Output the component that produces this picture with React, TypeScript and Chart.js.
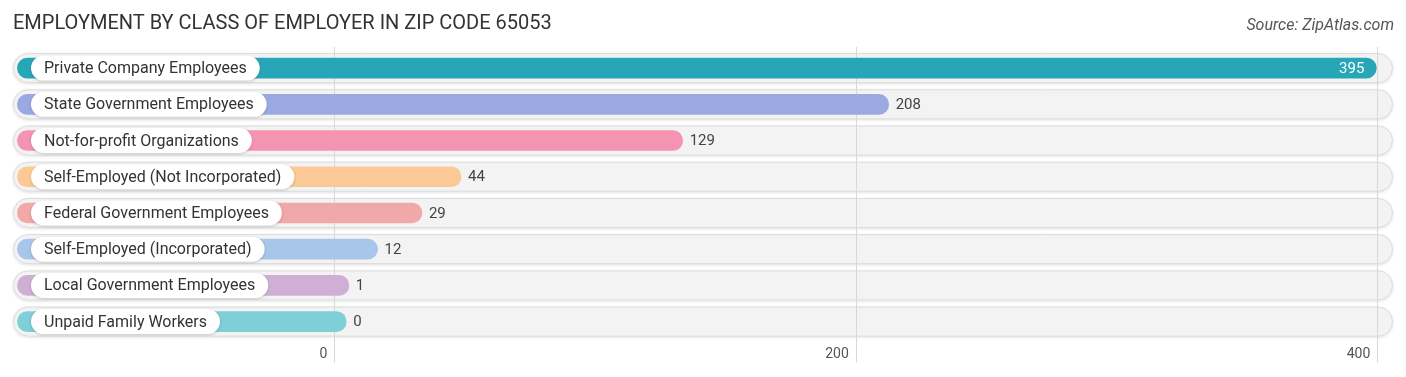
import React, { useEffect, useRef } from 'react';
import { Chart, registerables } from 'chart.js';

Chart.register(...registerables);

const titleText = 'EMPLOYMENT BY CLASS OF EMPLOYER IN ZIP CODE 65053';
const sourceText = 'Source: ZipAtlas.com';

const categories = [
  'Private Company Employees',
  'State Government Employees',
  'Not-for-profit Organizations',
  'Self-Employed (Not Incorporated)',
  'Federal Government Employees',
  'Self-Employed (Incorporated)',
  'Local Government Employees',
  'Unpaid Family Workers',
];
const values = [395, 208, 129, 44, 29, 12, 1, 0];
const colors = [
  '#27a6b8',
  '#9ba9e3',
  '#f593b3',
  '#fbc995',
  '#f0a8a8',
  '#a7c6ea',
  '#cfafd5',
  '#7ecfd8',
];
const tickValues = [0, 200, 400];

const AXIS_MIN = -123.2;
const AXIS_MAX = 406;
const BAR_START = -121.5;
const END_PAD = 4.6;

const FONT = 'Roboto, "Noto Sans", sans-serif';

function roundRect(ctx: CanvasRenderingContext2D, x: number, y: number, w: number, h: number, r: number) {
  ctx.beginPath();
  ctx.moveTo(x + r, y);
  ctx.lineTo(x + w - r, y);
  ctx.arc(x + w - r, y + r, r, -Math.PI / 2, Math.PI / 2);
  ctx.lineTo(x + r, y + h);
  ctx.arc(x + r, y + r, r, Math.PI / 2, (3 * Math.PI) / 2);
  ctx.closePath();
}

const backgroundPlugin = {
  id: 'rowBackground',
  beforeDraw(chart: any) {
    const ctx = chart.ctx as CanvasRenderingContext2D;
    const area = chart.chartArea;
    const yScale = chart.scales.y;
    const xScale = chart.scales.x;
    ctx.save();
    // title & source
    ctx.fillStyle = '#333';
    ctx.font = `400 20px ${FONT}`;
    ctx.textAlign = 'left';
    ctx.textBaseline = 'alphabetic';
    ctx.fillText(titleText, 13, 29);
    ctx.fillStyle = '#555';
    ctx.font = `italic 400 16px ${FONT}`;
    ctx.textAlign = 'right';
    ctx.fillText(sourceText, 1394, 30);

    // row pills
    categories.forEach((_, i) => {
      const y = yScale.getPixelForValue(i);
      const h = 30;
      ctx.save();
      ctx.shadowColor = 'rgba(0,0,0,0.12)';
      ctx.shadowBlur = 3;
      ctx.shadowOffsetY = 1;
      roundRect(ctx, area.left, y - h / 2, area.right - area.left, h, h / 2);
      ctx.fillStyle = '#f3f3f3';
      ctx.fill();
      ctx.restore();
      roundRect(ctx, area.left + 0.5, y - h / 2 + 0.5, area.right - area.left - 1, h - 1, (h - 1) / 2);
      ctx.strokeStyle = '#dcdcdc';
      ctx.lineWidth = 1;
      ctx.stroke();
    });

    // grid lines
    ctx.strokeStyle = '#d8d8d8';
    ctx.lineWidth = 1;
    tickValues.forEach((t) => {
      const x = Math.round(xScale.getPixelForValue(t)) + 0.5;
      ctx.beginPath();
      ctx.moveTo(x, area.top - 3);
      ctx.lineTo(x, area.bottom + 23);
      ctx.stroke();
    });
    ctx.restore();
  },
};

const labelPlugin = {
  id: 'barLabels',
  afterDatasetsDraw(chart: any) {
    const ctx = chart.ctx as CanvasRenderingContext2D;
    const area = chart.chartArea;
    const meta = chart.getDatasetMeta(0);
    const maxV = Math.max(...values);
    ctx.save();
    meta.data.forEach((el: any, i: number) => {
      const y = el.y;
      const endX = Math.max(el.x, el.base);
      // category pill
      ctx.font = `400 16px ${FONT}`;
      const tw = ctx.measureText(categories[i]).width;
      const px = area.left + 18;
      const ph = 25;
      ctx.save();
      ctx.shadowColor = 'rgba(0,0,0,0.18)';
      ctx.shadowBlur = 3;
      ctx.shadowOffsetY = 1;
      roundRect(ctx, px, y - ph / 2, tw + 26, ph, ph / 2);
      ctx.fillStyle = '#ffffff';
      ctx.fill();
      ctx.restore();
      ctx.fillStyle = '#333';
      ctx.textAlign = 'left';
      ctx.textBaseline = 'middle';
      ctx.fillText(categories[i], px + 13, y + 1);

      // value label
      const v = values[i];
      ctx.font = `400 15px ${FONT}`;
      if (v / maxV > 0.8) {
        ctx.fillStyle = '#ffffff';
        ctx.textAlign = 'right';
        ctx.fillText(String(v), endX - 12, y + 1);
      } else {
        ctx.fillStyle = '#444';
        ctx.textAlign = 'left';
        ctx.fillText(String(v), endX + 7, y + 1);
      }
    });
    ctx.restore();
  },
};

export default function App() {
  const canvasRef = useRef<HTMLCanvasElement | null>(null);

  useEffect(() => {
    if (!canvasRef.current) return;
    const chart = new Chart(canvasRef.current, {
      type: 'bar',
      data: {
        labels: categories,
        datasets: [
          {
            data: values.map((v) => [BAR_START, v + END_PAD]) as any,
            backgroundColor: colors,
            borderWidth: 0,
            borderRadius: 10,
            borderSkipped: false,
            barThickness: 20,
          },
        ],
      },
      options: {
        indexAxis: 'y',
        animation: false,
        responsive: false,
        devicePixelRatio: 1,
        layout: { padding: { left: 13, right: 13, top: 50, bottom: 8.5 } },
        plugins: {
          legend: { display: false },
          tooltip: { enabled: false },
          title: { display: false },
        },
        scales: {
          x: {
            type: 'linear',
            min: AXIS_MIN,
            max: AXIS_MAX,
            border: { display: false },
            grid: { display: false, drawTicks: false },
            afterBuildTicks: (scale: any) => {
              scale.ticks = tickValues.map((v) => ({ value: v }));
            },
            ticks: {
              autoSkip: false,
              maxRotation: 0,
              align: 'end',
              labelOffset: -7,
              padding: 6,
              color: '#555',
              font: { family: FONT, size: 14 },
            },
          },
          y: {
            type: 'category',
            display: false,
          },
        },
      },
      plugins: [backgroundPlugin, labelPlugin],
    });
    return () => chart.destroy();
  }, []);

  return (
    <div style={{ position: 'absolute', left: 0, top: 0, width: 1406, height: 377, background: '#fff' }}>
      <canvas ref={canvasRef} width={1406} height={377} />
    </div>
  );
}
